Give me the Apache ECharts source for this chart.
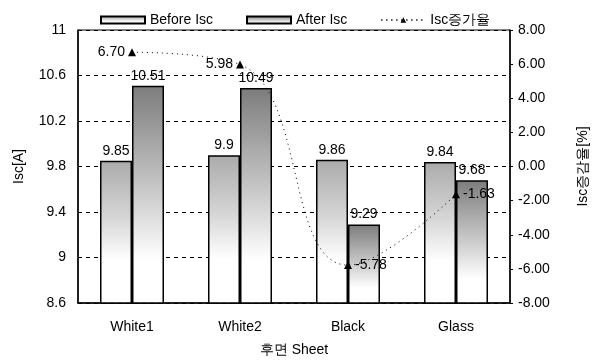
<!DOCTYPE html>
<html>
<head>
<meta charset="utf-8">
<script src="https://cdn.jsdelivr.net/npm/echarts@6/dist/echarts.min.js"></script>
<style>
  html, body { margin: 0; padding: 0; background: #fff; }
  #chart { width: 598px; height: 362px; }
</style>
</head>
<body>
<div id="chart"></div>
<script>
// Short-circuit current by back sheet
const categories = ['White1', 'White2', 'Black', 'Glass'];
const beforeIsc = [9.85, 9.9, 9.86, 9.84];
const afterIsc = [10.51, 10.49, 9.29, 9.68];
const iscChange = [6.70, 5.98, -5.78, -1.63];
const changeLabelPos = ['left', 'left', 'right', 'right'];

const FONT = '"Liberation Sans", Arial, sans-serif';
const FS = 14;

function grad(stops) {
  return new echarts.graphic.LinearGradient(0, 0, 0, 1,
    stops.map(s => ({ offset: s[0], color: s[1] })));
}
const beforeFill = grad([[0, '#ababab'], [0.4, '#d6d6d6'], [0.7, '#ffffff'], [1, '#ffffff']]);
const afterFill = grad([[0, '#7c7c7c'], [0.45, '#c4c4c4'], [0.8, '#ffffff'], [1, '#ffffff']]);

const chart = echarts.init(document.getElementById('chart'), null, { renderer: 'canvas' });

chart.setOption({
  animation: false,
  backgroundColor: '#fff',
  textStyle: { fontFamily: FONT, color: '#000' },
  legend: {
    data: [
      { name: 'Before Isc', icon: 'rect' },
      { name: 'After Isc', icon: 'rect' },
      { name: 'Isc증가율' }
    ],
    left: 95, top: 8,
    itemWidth: 44, itemHeight: 7, itemGap: 33,
    textStyle: { fontFamily: FONT, fontSize: FS, color: '#000' }
  },
  grid: {
    left: 78, right: 86, top: 30, bottom: 52,
    show: true, borderColor: '#000', borderWidth: 1
  },
  xAxis: {
    type: 'category',
    data: categories,
    axisLine: { onZero: false, lineStyle: { color: '#000', width: 1.5 } },
    axisTick: { show: false },
    axisLabel: { fontFamily: FONT, fontSize: FS, color: '#000', margin: 17 },
    name: '후면 Sheet',
    nameLocation: 'middle',
    nameGap: 40,
    nameTextStyle: { fontFamily: FONT, fontSize: FS, color: '#000' }
  },
  yAxis: [
    {
      type: 'value',
      min: 8.6, max: 11, interval: 0.4,
      axisLine: { show: true, onZero: false, lineStyle: { color: '#000', width: 1.5 } },
      axisTick: { show: false },
      axisLabel: {
        fontFamily: FONT, fontSize: FS, color: '#000', margin: 12,
        formatter: v => String(+v.toFixed(1))
      },
      splitLine: { lineStyle: { color: '#000', type: [4, 4], width: 1 } },
      name: 'Isc[A]',
      nameLocation: 'middle',
      nameGap: 52,
      nameRotate: 90,
      nameTextStyle: { fontFamily: FONT, fontSize: FS, color: '#000' }
    },
    {
      type: 'value',
      min: -8, max: 8, interval: 2,
      position: 'right',
      axisLine: { show: true, onZero: false, lineStyle: { color: '#000', width: 1.5 } },
      axisTick: { show: true, length: 3, lineStyle: { color: '#000' } },
      axisLabel: {
        fontFamily: FONT, fontSize: FS, color: '#000', margin: 8,
        formatter: v => v.toFixed(2)
      },
      splitLine: { show: false },
      name: 'Isc증감율[%]',
      nameLocation: 'middle',
      nameGap: 66,
      nameRotate: 90,
      nameTextStyle: { fontFamily: FONT, fontSize: FS, color: '#000' }
    }
  ],
  series: [
    {
      name: 'Before Isc',
      type: 'bar',
      data: beforeIsc,
      barWidth: 32,
      barGap: '0%',
      itemStyle: { color: beforeFill, borderColor: '#000', borderWidth: 1.5 },
      label: {
        show: true, position: 'top', distance: 3,
        fontFamily: FONT, fontSize: FS, color: '#000',
        formatter: p => String(p.value)
      }
    },
    {
      name: 'After Isc',
      type: 'bar',
      data: afterIsc,
      barWidth: 32,
      itemStyle: { color: afterFill, borderColor: '#000', borderWidth: 1.5 },
      label: {
        show: true, position: 'top', distance: 3,
        fontFamily: FONT, fontSize: FS, color: '#000',
        formatter: p => String(p.value)
      }
    },
    {
      name: 'Isc증가율',
      type: 'line',
      yAxisIndex: 1,
      smooth: 0.45,
      symbol: 'triangle',
      symbolSize: 8,
      z: 5,
      data: iscChange.map((v, i) => ({
        value: v,
        label: { position: changeLabelPos[i] }
      })),
      lineStyle: { color: '#000', width: 1, type: [1, 4] },
      itemStyle: { color: '#000' },
      label: {
        show: true, distance: 3,
        fontFamily: FONT, fontSize: FS, color: '#000',
        formatter: p => p.value.toFixed(2)
      }
    }
  ]
});
</script>
</body>
</html>
